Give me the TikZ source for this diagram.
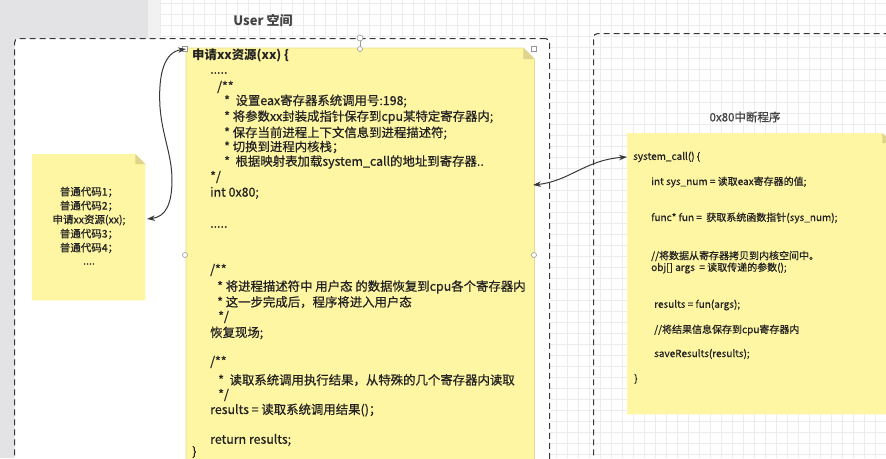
\documentclass[tikz,border=0pt]{standalone}
\usepackage{fontspec}
\setmainfont{Noto Sans CJK SC}
\newfontfamily\medfont{Noto Sans CJK SC}[FakeBold=0.6]
\usetikzlibrary{arrows.meta}
\definecolor{notey}{RGB}{255,246,163}
\definecolor{notefold}{RGB}{222,212,140}
\definecolor{noteedge}{RGB}{232,220,140}
\definecolor{ink}{RGB}{34,34,34}
\definecolor{gridc}{RGB}{236,236,236}
\definecolor{panel}{RGB}{227,227,230}
\definecolor{panel2}{RGB}{241,241,241}
\definecolor{handlec}{RGB}{150,150,150}
\tikzset{
  dashbox/.style={draw=ink!90, line width=1.1pt, dash pattern=on 6pt off 4pt, rounded corners=4pt, inner sep=0pt},
  notebg/.style={fill=notey, draw=noteedge, line width=0.8pt},
  foldc/.style={fill=notefold},
  codeA/.style={anchor=west, inner sep=0pt, text=ink, font=\medfont\fontsize{12.4}{14}\selectfont},
  codeB/.style={anchor=west, inner sep=0pt, text=ink, font=\medfont\fontsize{10}{12}\selectfont},
  codeC/.style={anchor=center, inner sep=0pt, text=ink, font=\medfont\fontsize{10.5}{12}\selectfont},
  titlet/.style={inner sep=0pt, text=ink!85},
  conn/.style={draw=ink!90, line width=1pt, {Stealth[length=8pt,width=5.5pt]}-{Stealth[length=8pt,width=5.5pt]}},
  handle/.style={draw=handlec, fill=white, line width=0.6pt},
  box/.style={inner sep=0pt, draw=none, anchor=north west}
}
\begin{document}
\begin{tikzpicture}[x=1pt,y=-1pt]
\useasboundingbox (0,0) rectangle (886,458);
\clip (0,0) rectangle (886,458);
% canvas
\fill[white] (0,0) rectangle (886,458);
\foreach \i in {0,...,66} \draw[gridc, line width=0.6pt] ({160+11*\i},0) -- ({160+11*\i},458);
\foreach \j in {0,...,42} \draw[gridc, line width=0.6pt] (160,{3+11*\j}) -- (886,{3+11*\j});
\fill[panel] (0,0) rectangle (148,458);
\fill[panel2] (148,0) rectangle (160,458);

% containers
\node[box, dashbox, fill=white, minimum width=535pt, minimum height=460pt] (user) at (14,38) {};
\node[box, dashbox, minimum width=320pt, minimum height=460pt] (kern) at (593,33) {};
\node[titlet, font=\bfseries\fontsize{13}{15}\selectfont] (usert) at (263,20) {User 空间};
\node[titlet, font=\medfont\fontsize{11.5}{13}\selectfont] (kernt) at (745,117) {0x80中断程序};

% main note
\node[box, minimum width=348pt, minimum height=440pt] (mainnote) at (186,48) {};
\path[notebg] (mainnote.north west) -- ([xshift=-11pt]mainnote.north east) -- ([yshift=-11pt]mainnote.north east) -- (mainnote.south east) -- (mainnote.south west) -- cycle;
\fill[foldc] ([xshift=-11pt]mainnote.north east) -- ([yshift=-11pt]mainnote.north east) -- ([xshift=-11pt,yshift=-11pt]mainnote.north east) -- cycle;

\node[codeA, font=\bfseries\fontsize{12.4}{14}\selectfont] (m1) at (192,55) {申请xx资源(xx) \{};
\node[codeA] (m2) at (210,73) {.....};
\node[codeA] (m3) at (217,87) {/**};
\node[codeA] (m4) at (224,101) {*\ \ 设置eax寄存器系统调用号:198;};
\node[codeA] (m5) at (224,117) {* 将参数xx封装成指针保存到cpu某特定寄存器内;};
\node[codeA] (m6) at (224,133) {* 保存当前进程上下文信息到进程描述符;};
\node[codeA] (m7) at (224,147) {* 切换到进程内核栈；};
\node[codeA] (m8) at (224,162) {*\ \ 根据映射表加载system\_call的地址到寄存器..};
\node[codeA] (m9) at (210,177) {*/};
\node[codeA] (m10) at (210,193) {int 0x80;};
\node[codeA] (m11) at (210,227) {.....};
\node[codeA] (m12) at (210,270) {/**};
\node[codeA] (m13) at (217,287) {* 将进程描述符中 用户态 的数据恢复到cpu各个寄存器内};
\node[codeA] (m14) at (217,302) {* 这一步完成后，程序将进入用户态};
\node[codeA] (m15) at (218,317) {*/};
\node[codeA] (m16) at (210,333) {恢复现场;};
\node[codeA] (m17) at (210,362) {/**};
\node[codeA] (m18) at (218,380) {*\ \ 读取系统调用执行结果，从特殊的几个寄存器内读取};
\node[codeA] (m19) at (218,395) {*/};
\node[codeA] (m20) at (210,410) {results = 读取系统调用结果()；};
\node[codeA] (m21) at (210,440) {return results;};
\node[codeA] (m22) at (192,452) {\}};

% left note
\node[box, minimum width=113pt, minimum height=146pt] (lnote) at (32,154) {};
\path[fill=notey] (lnote.north west) -- ([xshift=-10pt]lnote.north east) -- ([yshift=-10pt]lnote.north east) -- (lnote.south east) -- (lnote.south west) -- cycle;
\fill[foldc] ([xshift=-10pt]lnote.north east) -- ([yshift=-10pt]lnote.north east) -- ([xshift=-10pt,yshift=-10pt]lnote.north east) -- cycle;
\node[codeC] (l1) at (89,192) {普通代码1；};
\node[codeC] (l2) at (89,206) {普通代码2；};
\node[codeC] (l3) at (89,220) {申请xx资源(xx);};
\node[codeC] (l4) at (89,234) {普通代码3；};
\node[codeC] (l5) at (89,248) {普通代码4；};
\node[codeC] (l6) at (89,264) {....};

% right note
\node[box, minimum width=265pt, minimum height=281pt] (rnote) at (627,133) {};
\path[fill=notey] (rnote.north west) -- ([xshift=-10pt]rnote.north east) -- ([yshift=-10pt]rnote.north east) -- (rnote.south east) -- (rnote.south west) -- cycle;
\fill[foldc] ([xshift=-10pt]rnote.north east) -- ([yshift=-10pt]rnote.north east) -- ([xshift=-10pt,yshift=-10pt]rnote.north east) -- cycle;
\node[codeB] (r1) at (633,157) {system\_call() \{};
\node[codeB] (r2) at (651,182) {int sys\_num = 读取eax寄存器的值;};
\node[codeB] (r3) at (651,218) {func* fun =\ \ 获取系统函数指针(sys\_num);};
\node[codeB] (r4) at (651,256) {//将数据从寄存器拷贝到内核空间中。};
\node[codeB] (r5) at (651,268) {obj[] args\ \ = 读取传递的参数();};
\node[codeB] (r6) at (654,305) {results = fun(args);};
\node[codeB] (r7) at (654,330) {//将结果信息保存到cpu寄存器内};
\node[codeB] (r8) at (654,354) {saveResults(results);};
\node[codeB] (r9) at (634,379) {\}};

% selection handles
\draw[handlec, line width=0.6pt] (360,38) -- (360,49);
\draw[handle] (182.5,46.5) rectangle (187.5,51.5);
\draw[handle] (531.5,46.5) rectangle (536.5,51.5);
\draw[handle] (360,38) circle[radius=3pt];
\draw[handle] (360,49) circle[radius=2.5pt];
\draw[handle] (185,255) circle[radius=2.5pt];
\draw[handle] (534,255) circle[radius=2.5pt];

% connectors
\coordinate (a0) at (186,49);
\coordinate (a1) at (147,219);
\coordinate (b0) at (533,185);
\coordinate (b1) at (627,157);
\draw[conn] (a0) .. controls (165,52) and (158,72) .. (160,107) .. controls (162,135) and (172,155) .. (172,180) .. controls (172,205) and (165,217) .. (a1);
\draw[conn] (b0) .. controls (570,181) and (585,160) .. (b1);
\end{tikzpicture}
\end{document}
